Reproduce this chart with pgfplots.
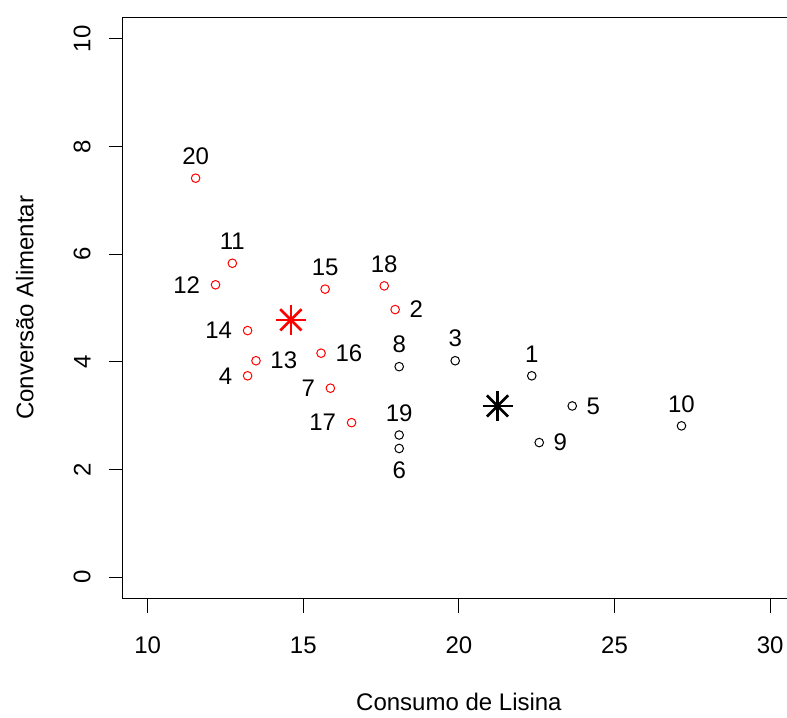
\documentclass[border=0pt]{standalone}
\usepackage{pgfplots}
\pgfplotsset{compat=1.18}
\usepackage{fontspec}
\setmainfont{Liberation Sans}
\newcommand\fs{\fontsize{24}{28}\selectfont}
\pgfplotsset{
  lab/.style 2 args={nodes near coords, point meta=explicit symbolic,
    nodes near coords align={#1},
    every node near coord/.append style={anchor=#1, text=black, font=\fs, inner sep=0pt, #2}},
}
\begin{document}
\begin{tikzpicture}
\begin{axis}[name=ax, at={(0,0)}, anchor=south west, scale only axis,
  width=664.3pt, height=581.6pt,
  xmin=9.2, xmax=30.54, ymin=-0.4, ymax=10.4,
  axis y line*=left, axis x line*=box,
  xtick={10,15,20,25,30}, ytick={0,2,4,6,8,10},
  xtick pos=lower, ytick pos=left,
  tick align=outside, major tick length=14pt,
  axis line style={line width=1.1pt, black},
  tick style={line width=1.1pt, black},
  /pgf/number format/assume math mode=true,
  ticklabel style={font=\fs, inner sep=0pt},
  xticklabel shift=24pt,
  yticklabel style={rotate=90, anchor=south},
  yticklabel shift=18pt,
  xlabel={Consumo de Lisina}, ylabel={Conversão Alimentar},
  every axis x label/.style={at={([yshift=-111.3pt]axis cs:20,-0.4)}, anchor=base, font=\fs, inner sep=0pt},
  every axis y label/.style={at={([xshift=-89.5pt]axis description cs:0,0.5)}, rotate=90, anchor=base, font=\fs, inner sep=0pt},
  clip=false,
]
% red group
\addplot[only marks, mark=o, mark size=4.3pt, red, line width=1pt, lab={south}{yshift=13pt}] coordinates {
 (11.54,7.41) [20]
 (12.72,5.83) [11]
 (15.70,5.35) [15]
 (17.60,5.41) [18]
};
\addplot[only marks, mark=o, mark size=4.3pt, red, line width=1pt, lab={east}{xshift=-15pt}] coordinates {
 (12.18,5.43) [12]
 (13.21,4.58) [14]
 (13.21,3.74) [4]
 (15.87,3.51) [7]
 (16.55,2.87) [17]
};
\addplot[only marks, mark=o, mark size=4.3pt, red, line width=1pt, lab={west}{xshift=14pt}] coordinates {
 (17.95,4.97) [2]
 (13.48,4.02) [13]
 (15.57,4.16) [16]
};
% black group
\addplot[only marks, mark=o, mark size=4.3pt, black, line width=1pt, lab={south}{yshift=13pt}] coordinates {
 (18.08,3.91) [8]
 (19.88,4.02) [3]
 (22.34,3.74) [1]
 (27.15,2.81) [10]
 (18.08,2.64) [19]
};
\addplot[only marks, mark=o, mark size=4.3pt, black, line width=1pt, lab={west}{xshift=14pt}] coordinates {
 (23.64,3.18) [5]
 (22.58,2.50) [9]
};
\addplot[only marks, mark=o, mark size=4.3pt, black, line width=1pt, lab={north}{yshift=-13pt}] coordinates {
 (18.08,2.39) [6]
};
% centroids
\addplot[only marks, mark=+, mark size=15pt, red, line width=2.6pt] coordinates {(14.60,4.78)};
\addplot[only marks, mark=x, mark size=15pt, red, line width=2.6pt] coordinates {(14.60,4.78)};
\addplot[only marks, mark=+, mark size=15pt, black, line width=2.6pt] coordinates {(21.24,3.18)};
\addplot[only marks, mark=x, mark size=15pt, black, line width=2.6pt] coordinates {(21.24,3.18)};
\end{axis}
\pgfresetboundingbox
\useasboundingbox ([xshift=-122.8pt,yshift=-118.3pt]ax.south west) rectangle ([yshift=17.2pt]ax.north east);
\end{tikzpicture}
\end{document}
